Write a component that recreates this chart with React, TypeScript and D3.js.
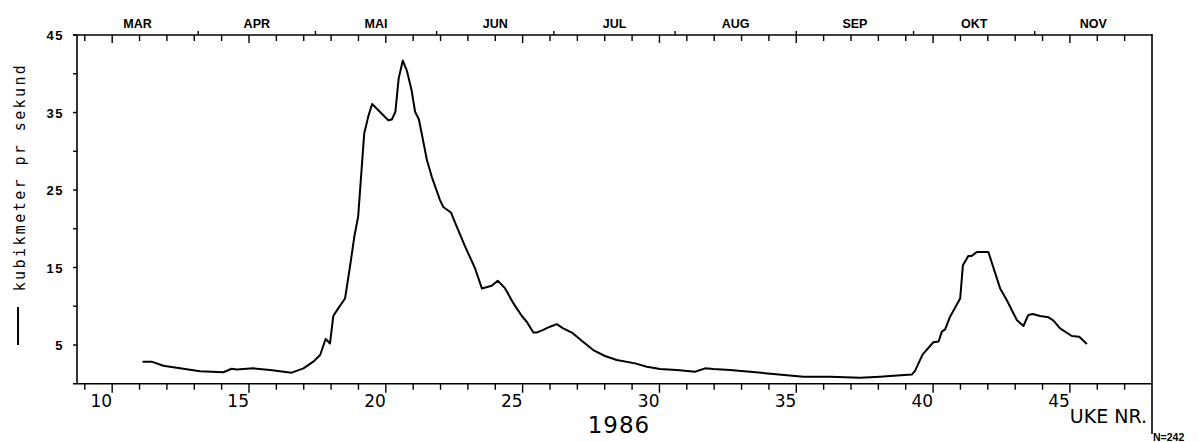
import React from "react";
import * as d3 from "d3";

// Daily discharge, 1986 (week number, m3/s)
const weeks: number[] = [
  11.11, 11.44, 11.87, 12.48, 13.21, 14.06, 14.37, 14.55, 15.16, 15.77, 16.56, 16.99,
  17.35, 17.6, 17.8, 17.96, 18.08, 18.26, 18.51, 18.69, 18.85, 18.99, 19.21, 19.36,
  19.5, 20.09, 20.22, 20.35, 20.47, 20.62, 20.77, 20.94, 21.07, 21.21, 21.5, 21.68,
  21.98, 22.1, 22.38, 22.47, 22.9, 23.26, 23.51, 23.87, 24.09, 24.36, 24.66, 24.97,
  25.15, 25.39, 25.51, 25.75, 26.0, 26.25, 26.48, 26.8, 27.16, 27.58, 28.01, 28.44,
  29.11, 29.54, 30.02, 30.63, 31.3, 31.67, 31.97, 32.58, 33.31, 34.16, 35.26, 36.24,
  37.33, 38.06, 38.43, 39.22, 39.34, 39.62, 40.01, 40.2, 40.32, 40.44, 40.62, 40.99,
  41.09, 41.29, 41.41, 41.6, 42.02, 42.45, 42.69, 43.06, 43.3, 43.48, 43.64, 43.91,
  44.22, 44.4, 44.64, 45.07, 45.34, 45.62,
];
const flow: number[] = [
  2.85, 2.85, 2.33, 1.99, 1.6, 1.48, 1.94, 1.85, 1.99, 1.77, 1.43, 1.99,
  2.85, 3.71, 5.77, 5.2, 8.74, 9.73, 11.0, 15.1, 19.0, 21.6, 32.3, 34.5,
  36.1, 34.0, 34.1, 35.1, 39.4, 41.7, 40.4, 37.9, 35.1, 34.1, 28.9, 26.7,
  23.7, 22.8, 22.1, 21.3, 17.7, 14.9, 12.3, 12.65, 13.3, 12.3, 10.4, 8.74,
  8.0, 6.6, 6.6, 6.95, 7.36, 7.7, 7.15, 6.6, 5.56, 4.35, 3.58, 3.06,
  2.63, 2.2, 1.9, 1.77, 1.55, 1.99, 1.9, 1.77, 1.55, 1.26, 0.91, 0.91,
  0.78, 0.91, 1.0, 1.18, 1.66, 3.8, 5.35, 5.45, 6.72, 7.02, 8.65, 11.0,
  15.3, 16.5, 16.5, 17.0, 17.0, 12.3, 10.8, 8.23, 7.45, 8.87, 9.0, 8.74,
  8.57, 8.14, 7.15, 6.16, 6.07, 5.13,
];

const monthNames: string[] = ["MAR", "APR", "MAI", "JUN", "JUL", "AUG", "SEP", "OKT", "NOV"];
// day of year (0-based) of the first of each month, Mar..Dec
const monthStartDay: number[] = [59, 90, 120, 151, 181, 212, 243, 273, 304, 334];
const xTickLabels: number[] = [10, 15, 20, 25, 30, 35, 40, 45];
const yTickLabels: number[] = [5, 15, 25, 35, 45];

const W = 1199;
const H = 442;
const L = 77;
const R = 1152;
const T = 35;
const B = 383.75;

const dayToWeek = (d: number) => (d + 2) / 7;

export default function App() {
  const x = d3.scaleLinear().domain([dayToWeek(59), dayToWeek(334)]).range([L, R]);
  const y = d3.scaleLinear().domain([0, 45]).range([B, T]);

  const pts: [number, number][] = weeks.map((w, i) => [w, flow[i]]);
  const line = d3
    .line<[number, number]>()
    .x((d) => x(d[0]))
    .y((d) => y(d[1]));

  const weekTicks = d3.range(9, 48);
  const yTicks = d3.range(5, 50, 5);
  const monthBounds = monthStartDay.map(dayToWeek);

  const boldFont = "'Liberation Sans', Arial, sans-serif";
  const plainFont = "'DejaVu Sans', sans-serif";

  return (
    <svg
      width={W}
      height={H}
      style={{ position: "absolute", left: 0, top: 0, background: "#fff" }}
    >
      <rect x={0} y={0} width={W} height={H} fill="#fff" />
      {/* axes frame */}
      <g stroke="#000" strokeWidth={1.6} fill="none">
        <line x1={73} x2={R} y1={T} y2={T} />
        <line x1={L} x2={L} y1={T} y2={B} />
        <line x1={73} x2={R} y1={B} y2={B} />
        <line x1={R} x2={R} y1={T - 1} y2={434} />
      </g>

      {/* left ticks */}
      <g stroke="#000" strokeWidth={1.4}>
        {yTicks.map((v) => (
          <line key={v} x1={L - 4} x2={L} y1={y(v)} y2={y(v)} />
        ))}
      </g>
      <g fontFamily={boldFont} fontWeight="bold" fontSize={13} letterSpacing={1.5}>
        {yTickLabels.map((v) => (
          <text key={v} x={64} y={y(v) + 5} textAnchor="end">
            {v}
          </text>
        ))}
      </g>

      {/* top week ticks */}
      <g stroke="#000" strokeWidth={1.4}>
        {weekTicks.map((w) => (
          <line key={w} x1={x(w)} x2={x(w)} y1={T} y2={T + (w % 5 === 0 ? 8 : 6)} />
        ))}
        {monthBounds.slice(1, -1).map((w, i) => (
          <line key={"m" + i} x1={x(w)} x2={x(w)} y1={T - 4} y2={T} />
        ))}
      </g>
      <g fontFamily={boldFont} fontWeight="bold" fontSize={12.5}>
        {monthNames.map((m, i) => (
          <text
            key={m}
            x={(x(monthBounds[i]) + x(monthBounds[i + 1])) / 2}
            y={28}
            textAnchor="middle"
          >
            {m}
          </text>
        ))}
      </g>

      {/* bottom week ticks */}
      <g stroke="#000" strokeWidth={1.4}>
        {weekTicks.map((w) => (
          <line key={w} x1={x(w)} x2={x(w)} y1={B} y2={B + (w % 5 === 0 ? 9 : 6)} />
        ))}
      </g>
      <g fontFamily={plainFont} fontSize={17}>
        {xTickLabels.map((w) => (
          <text key={w} x={x(w)} y={407} textAnchor="end">
            {w}
          </text>
        ))}
      </g>
      <text x={1147} y={423} fontFamily={plainFont} fontSize={19} textAnchor="end">
        UKE NR.
      </text>
      <text
        x={619}
        y={433}
        fontFamily={plainFont}
        fontSize={23}
        letterSpacing={1}
        textAnchor="middle"
      >
        1986
      </text>
      <text x={1153} y={441} fontFamily={boldFont} fontWeight="bold" fontSize={10.5}>
        N=242
      </text>

      {/* y label and legend line */}
      <text
        transform="translate(25,177) rotate(-90)"
        fontFamily="'DejaVu Sans Mono', monospace"
        fontSize={15}
        letterSpacing={2.4}
        textAnchor="middle"
      >
        kubikmeter pr sekund
      </text>
      <line x1={18} x2={18} y1={307} y2={345} stroke="#000" strokeWidth={2} />

      {/* data line */}
      <path d={line(pts) || ""} fill="none" stroke="#000" strokeWidth={2} strokeLinejoin="round" />
    </svg>
  );
}
